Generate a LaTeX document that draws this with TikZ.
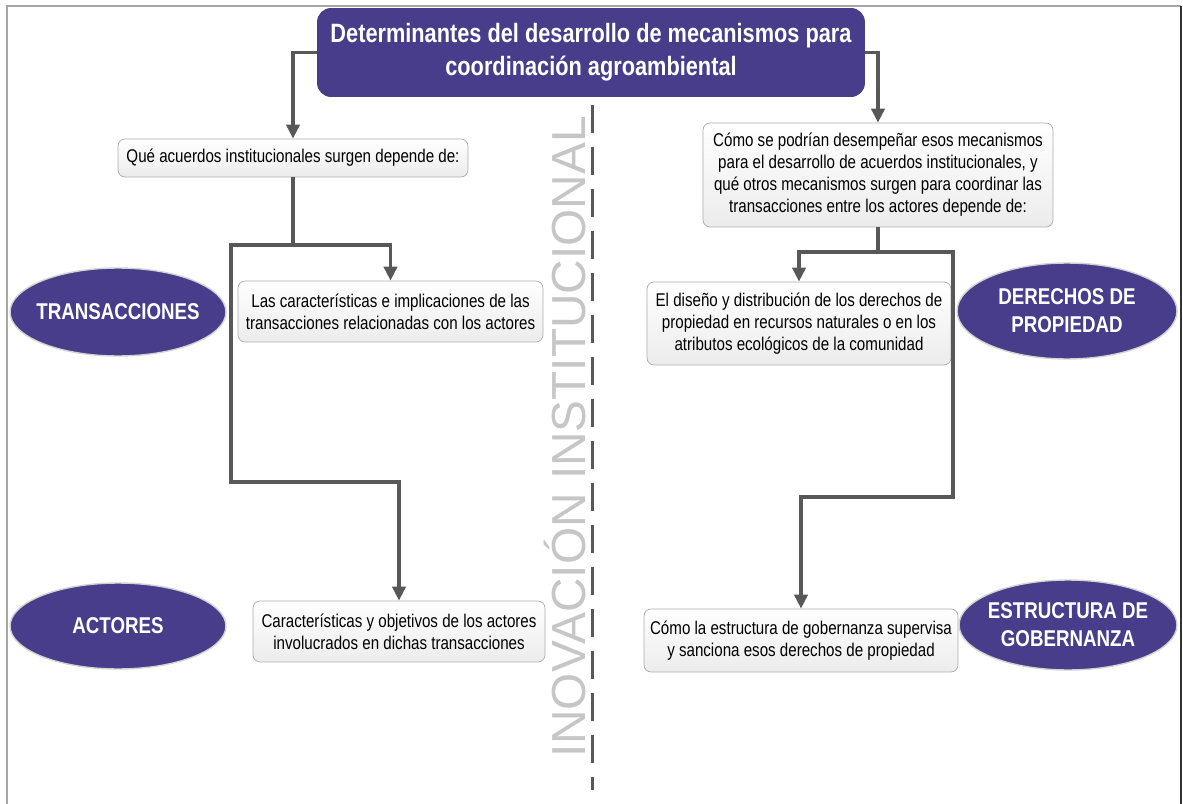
\documentclass[tikz,border=0pt]{standalone}
\usepackage{fontspec}
\setmainfont[FakeStretch=0.82]{Liberation Sans}
\newfontfamily\anchafont{Liberation Sans}
\usetikzlibrary{shapes.geometric,arrows.meta}

\definecolor{morado}{RGB}{72,61,139}
\definecolor{gristrazo}{RGB}{88,88,88}

\tikzset{
    caja/.style={draw=gray!65, rounded corners=4pt, top color=white, bottom color=gray!15,
        align=center, font=\fontsize{10.5}{12.5}\selectfont, inner sep=2pt},
    elipse/.style={ellipse, fill=morado, draw=gray!35, line width=0.8pt, text=white,
        align=center, font=\bfseries\fontsize{13}{16}\selectfont, inner xsep=-14pt, inner ysep=-5pt},
    conector/.style={draw=gristrazo, line width=2pt},
    flecha/.style={conector, -{Triangle[length=8pt,width=7.5pt]}}
}

\begin{document}
\begin{tikzpicture}[x=0.02cm, y=-0.02cm]

        \useasboundingbox (0,0) rectangle (1183,804);

        % marco
        \draw[gray!70, line width=1.3pt] (7,804) -- (7,6) -- (1181,6);
        \draw[black!80, line width=0.8pt] (1181,6) -- (1181,804);

        % eje central
        \draw[gristrazo, line width=1.7pt, dash pattern=on 0.56cm off 0.28cm] (592,105) -- (592,790);
        \node[rotate=90, text=gray!45, font=\anchafont\fontsize{27.2}{32}\selectfont] (eje) at (565,437) {INOVACIÓN INSTITUCIONAL};

        % titulo
        \node[fill=morado, rounded corners=8pt, text=white, align=center,
            minimum width=10.96cm, minimum height=1.78cm,
            font=\bfseries\fontsize{15.1}{18.7}\selectfont] (titulo) at (591,52.5)
            {Determinantes del desarrollo de mecanismos para\\coordinación agroambiental};

        % lado izquierdo
        \node[caja, minimum width=7cm, minimum height=0.76cm] (qacuerdos) at (293,158)
            {Qué acuerdos institucionales surgen depende de:};
        \node[caja, minimum width=6.1cm, minimum height=1.22cm] (ctrans) at (390.5,311.5)
            {Las características e implicaciones de las\\transacciones relacionadas con los actores};
        \node[caja, minimum width=5.84cm, minimum height=1.22cm] (cactores) at (399,631.5)
            {Características y objetivos de los actores\\involucrados en dichas transacciones};

        \node[elipse, minimum width=4.32cm, minimum height=1.76cm] (transacciones) at (118,312) {TRANSACCIONES};
        \node[elipse, minimum width=4.32cm, minimum height=1.72cm] (actores) at (118,626) {ACTORES};

        % lado derecho
        \node[caja, minimum width=7cm, minimum height=2.08cm] (qmecanismos) at (878,175)
            {Cómo se podrían desempeñar esos mecanismos\\para el desarrollo de acuerdos institucionales, y\\qué otros mecanismos surgen para coordinar las\\transacciones entre los actores depende de:};
        \node[caja, minimum width=6.08cm, minimum height=1.66cm] (cderechos) at (799,323.5)
            {El diseño y distribución de los derechos de\\propiedad en recursos naturales o en los\\atributos ecológicos de la comunidad};
        \node[caja, minimum width=6.28cm, minimum height=1.26cm] (cgobernanza) at (801,640.5)
            {Cómo la estructura de gobernanza supervisa\\y sanciona esos derechos de propiedad};

        \node[elipse, minimum width=4.4cm, minimum height=1.92cm] (derechos) at (1067,311) {DERECHOS DE\\PROPIEDAD};
        \node[elipse, minimum width=4.36cm, minimum height=1.8cm] (gobernanza) at (1068,625) {ESTRUCTURA DE\\GOBERNANZA};

        % conectores
        \coordinate (ramaizq) at (293,245);
        \coordinate (bajaizq) at (231,482);
        \coordinate (ramader) at (878,252);
        \coordinate (bajader) at (953,497);

        \draw[flecha] (titulo.west) -| (qacuerdos.north);
        \draw[flecha] (titulo.east) -| (qmecanismos.north);

        \draw[conector] (qacuerdos.south) -- (ramaizq);
        \draw[flecha] (ramaizq) -| (ctrans.north);
        \draw[flecha] (ramaizq) -| (bajaizq) -| (cactores.north);

        \draw[conector] (qmecanismos.south) -- (ramader);
        \draw[flecha] (ramader) -| (cderechos.north);
        \draw[flecha] (ramader) -| (bajader) -| (cgobernanza.north);

    \end{tikzpicture}
\end{document}
